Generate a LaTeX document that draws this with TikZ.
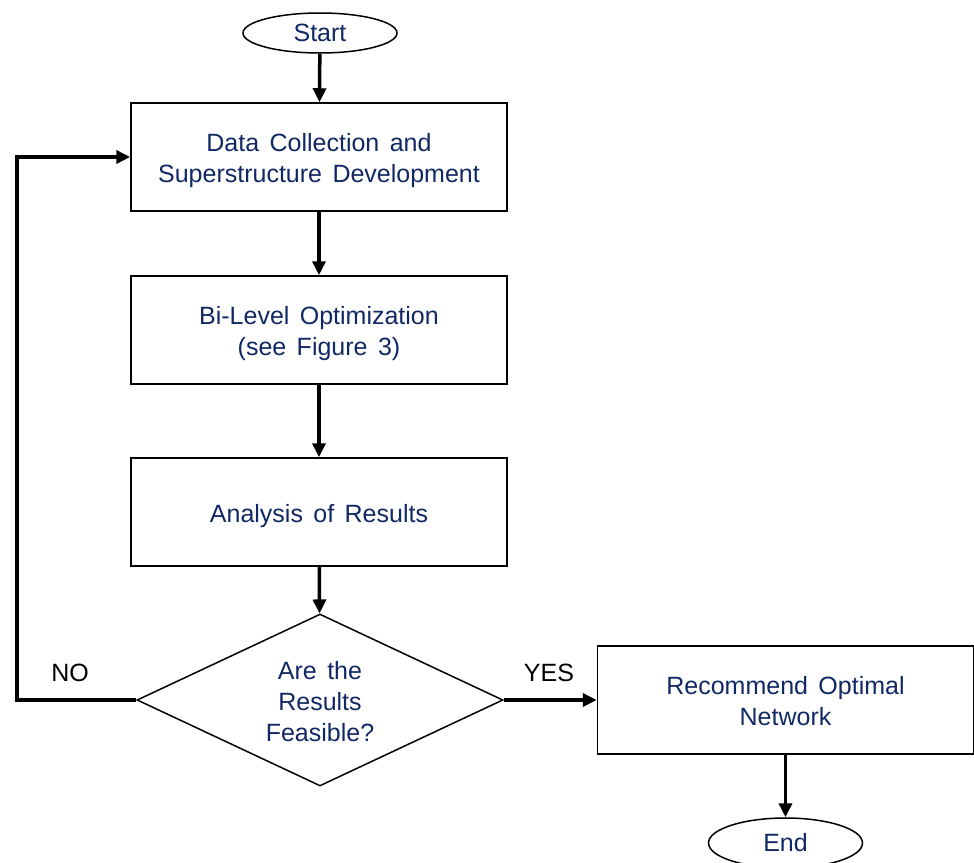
\documentclass[tikz,border=0pt]{standalone}
\usepackage{fontspec}
\setmainfont{Liberation Sans}[WordSpace=1.5]
\usetikzlibrary{shapes.geometric,arrows.meta}
\definecolor{navy}{RGB}{16,40,100}
\newcommand{\lowtext}[1]{\raisebox{-4pt}[\height][\depth]{\begin{tabular}{@{}c@{}}#1\end{tabular}}}
\begin{document}
\begin{tikzpicture}[x=1pt,y=-1pt,
  every node/.style={font=\fontsize{25}{31}\selectfont},
  txt/.style={text=navy,align=center},
  oval/.style={ellipse,draw,line width=1.5pt,minimum width=154pt,minimum height=40pt,inner sep=0pt,txt},
  box/.style={rectangle,draw,line width=1.5pt,minimum width=376pt,minimum height=108pt,inner sep=0pt,txt},
  dia/.style={diamond,draw,line width=1.5pt,minimum width=366pt,minimum height=172pt,inner sep=0pt,aspect=2.13,txt},
  conn/.style={line width=3.5pt,-{Triangle[length=14pt,width=13pt]}},
  lbl/.style={text=black}]
\useasboundingbox (0,0) rectangle (974,862);
\node[oval] (start) at (320,33) {Start};
\node[box] (b1) at (319,157) {\lowtext{Data Collection and\\Superstructure Development}};
\node[box] (b2) at (319,330) {\lowtext{Bi-Level Optimization\\(see Figure 3)}};
\node[box] (b3) at (319,512) {\lowtext{Analysis of Results}};
\node[dia] (d) at (320,700) {\lowtext{Are the\\Results\\Feasible?}};
\node[box] (b4) at (785.5,700) {\lowtext{Recommend Optimal\\Network}};
\node[oval,minimum height=50pt] (end) at (785.5,843) {End};
\coordinate (c1) at (17,700);
\coordinate (c2) at (17,157);
\node[lbl] (no) at (70,673) {NO};
\node[lbl] (yes) at (549,673) {YES};
\draw[conn] (start) -- (b1);
\draw[conn] (b1) -- (b2);
\draw[conn] (b2) -- (b3);
\draw[conn] (b3) -- (d);
\draw[conn] (d.east) -- (b4.west);
\draw[conn] (b4) -- (end);
\draw[conn,line join=miter] (d.west) -- (c1) -- (c2) -- (b1.west);
\end{tikzpicture}
\end{document}
